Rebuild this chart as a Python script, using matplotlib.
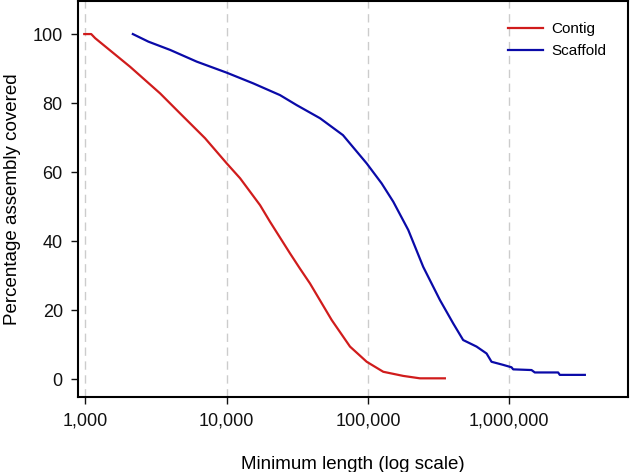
import matplotlib
matplotlib.use("Agg")
import matplotlib.pyplot as plt
from matplotlib.ticker import FuncFormatter, FixedLocator, NullLocator

plt.rcParams['font.family'] = ['Liberation Sans', 'DejaVu Sans']

# Contig curve (min length, % assembly covered)
contig_len = [985, 1103, 1177, 2080, 3388, 4691, 7045, 10030, 12460,
              17250, 20280, 23880, 28120, 33050, 38900, 55400, 74640, 97950,
              128300, 177600, 233100, 349900]
contig_pct = [100, 100, 98.8, 90.5, 82.8, 77, 69.8, 62.5, 58.2,
              50.4, 45.6, 41, 36.4, 32, 27.7, 17.1, 9.4, 5,
              2.1, 0.9, 0.2, 0.2]

# Scaffold curve
scaf_len = [2173, 2800, 3990, 6155, 10030, 15450, 23880, 31330, 45800, 66560,
            97950, 125000, 151000, 192800, 246000, 322900, 401000, 471300, 586300,
            690000, 748000, 904000, 1036000, 1064000, 1435000, 1514000, 2213000,
            2274000, 3420000]
scaf_pct = [100, 97.8, 95.4, 92, 88.8, 85.7, 82.3, 79.4, 75.6, 70.7,
            62.5, 56.7, 51.4, 43.2, 32.5, 22.9, 16.1, 11.3, 9.4,
            7.4, 5, 4.1, 3.4, 2.8, 2.6, 1.9, 1.9,
            1.2, 1.2]

xticks = [1000, 10000, 100000, 1000000]
yticks = [0, 20, 40, 60, 80, 100]

fig = plt.figure(figsize=(6.3, 4.72), dpi=100)
ax = fig.add_axes([0.124, 0.159, 0.873, 0.839])

for t in xticks:
    ax.axvline(t, color='#cccccc', lw=1, ls=(0, (6, 4)), zorder=0)

ax.plot(contig_len, contig_pct, color='#d01c1c', lw=1.6, label='Contig')
ax.plot(scaf_len, scaf_pct, color='#0a0aa8', lw=1.6, label='Scaffold')

ax.set_xscale('log')
ax.set_xlim(10 ** 2.95, 10 ** 6.84)
ax.set_ylim(-5.2, 109.6)
ax.xaxis.set_major_locator(FixedLocator(xticks))
ax.xaxis.set_minor_locator(NullLocator())
ax.xaxis.set_major_formatter(FuncFormatter(lambda v, p: f"{int(round(v)):,}"))
ax.set_yticks(yticks)

for s in ax.spines.values():
    s.set_linewidth(1.5)
    s.set_color('black')

ax.tick_params(axis='x', length=5, width=1, pad=6, labelsize=13, colors='#111111')
ax.tick_params(axis='y', length=5, width=1, pad=6, labelsize=13, colors='#111111')

ax.set_xlabel('Minimum length (log scale)', fontsize=13.5, labelpad=19)
ax.set_ylabel('Percentage assembly covered', fontsize=13.5, labelpad=8)

ax.legend(loc='upper right', frameon=False, fontsize=11, handlelength=2.3,
          handletextpad=0.55, borderaxespad=1.0, labelspacing=0.5)

fig.savefig('out.png', dpi=100)
